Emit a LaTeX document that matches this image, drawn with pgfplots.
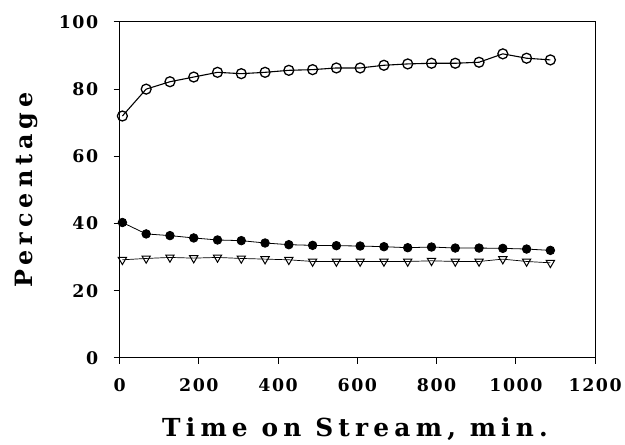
\documentclass[border=0pt]{standalone}
\usepackage{pgfplots}
\pgfplotsset{compat=1.18}
\usepackage{fontspec}
\setmainfont{DejaVu Serif}
\newfontfamily\labelfont{DejaVu Serif}[LetterSpace=21]
\newfontfamily\tickfont{DejaVu Serif}[LetterSpace=9]
\begin{document}
\begin{tikzpicture}
\begin{axis}[
  scale only axis,
  width=477bp, height=337bp,
  xmin=0, xmax=1200, ymin=0, ymax=100,
  xtick={0,200,...,1200}, ytick={0,20,...,100},
  tick align=outside, tick pos=left,
  major tick length=6bp,
  axis line style={line width=1pt},
  tick style={line width=0.9pt, black},
  /pgf/number format/assume math mode=true,
  /pgf/number format/1000 sep={},
  ticklabel style={font=\tickfont\bfseries\fontsize{17.5}{17.5}\selectfont},
  xticklabel style={yshift=-11bp},
  yticklabel style={xshift=-12bp},
  xlabel={Time on Stream, min.},
  ylabel={Percentage},
  xlabel style={at={(axis description cs:0.495,-0.2344)}, anchor=base, font=\labelfont\bfseries\fontsize{25}{25}\selectfont},
  ylabel style={at={(axis description cs:-0.1824,0.5)}, anchor=base, font=\labelfont\bfseries\fontsize{24}{24}\selectfont},
  every axis plot/.append style={black, line width=1.1pt},
]
\addplot[mark=o, mark size=5bp, mark options={fill=white, line width=1.3pt}] coordinates {
(7,72) (67,80) (127,82.2) (187,83.6) (247,85) (307,84.6) (367,85) (427,85.6) (487,85.8) (547,86.3)
(607,86.3) (667,87.1) (727,87.5) (787,87.7) (847,87.7) (907,88.0) (967,90.5) (1027,89.2) (1087,88.7)};
\addplot[line width=0.8pt, mark=*, mark size=4.3bp, mark options={fill=black}] coordinates {
(7,40.3) (67,36.9) (127,36.4) (187,35.7) (247,35.1) (307,34.9) (367,34.2) (427,33.7) (487,33.5) (547,33.4)
(607,33.3) (667,33.1) (727,32.8) (787,33.0) (847,32.7) (907,32.7) (967,32.6) (1027,32.4) (1087,32.0)};
\addplot[line width=0.7pt, mark=triangle, mark size=4.8bp, mark options={fill=white, rotate=180, line width=1pt}] coordinates {
(7,29.2) (67,29.6) (127,29.9) (187,29.7) (247,29.9) (307,29.6) (367,29.4) (427,29.2) (487,28.7) (547,28.7)
(607,28.7) (667,28.7) (727,28.7) (787,28.9) (847,28.7) (907,28.7) (967,29.4) (1027,28.7) (1087,28.3)};
\end{axis}
\path[use as bounding box] (-120bp,-82bp) rectangle (505bp,359bp);
\end{tikzpicture}
\end{document}
